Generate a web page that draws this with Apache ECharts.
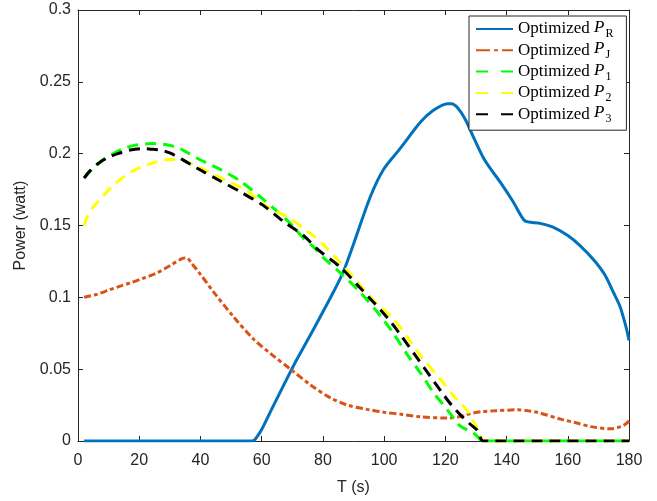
<!DOCTYPE html>
<html><head><meta charset="utf-8">
<script src="https://cdn.jsdelivr.net/npm/echarts@6/dist/echarts.min.js"></script>
<style>html,body{margin:0;padding:0;background:#fff}#c{width:657px;height:501px}</style>
</head><body><div id="c"></div>
<script>
// Optimized P_R
const tR = [2, 20, 40, 56, 57.5, 58.5, 60, 63, 67, 71.3, 77, 83.4, 86.7, 90, 95.5, 99.8, 105.4, 111.9, 116, 120.7, 122, 124, 126.5, 129.3, 133, 138, 142, 145.6, 147, 151, 155, 160, 164, 168.5, 172, 175, 177, 178.3, 179.3, 180];
const pR = [0, 0, 0, 0, 0.0005, 0.003, 0.008, 0.021, 0.038, 0.056, 0.078, 0.1035, 0.118, 0.137, 0.170, 0.189, 0.204, 0.222, 0.230, 0.2348, 0.2348, 0.232, 0.224, 0.211, 0.195, 0.180, 0.167, 0.154, 0.1525, 0.1515, 0.149, 0.143, 0.136, 0.126, 0.116, 0.103, 0.094, 0.085, 0.077, 0.070];
// Optimized P_J
const tJ = [2, 6, 10, 14, 17, 21, 25.8, 30, 34, 35.5, 37, 40, 44.2, 50.8, 57.3, 62.8, 69.4, 76, 82.5, 88, 94.5, 100, 106, 112, 120.7, 125, 128, 132, 136, 143.6, 147, 150, 157.7, 163, 167.5, 174, 177.4, 179, 180];
const pJ = [0.100, 0.102, 0.105, 0.108, 0.110, 0.113, 0.117, 0.122, 0.127, 0.1275, 0.124, 0.116, 0.104, 0.0865, 0.071, 0.061, 0.050, 0.039, 0.030, 0.025, 0.022, 0.020, 0.0185, 0.0168, 0.016, 0.017, 0.019, 0.0205, 0.021, 0.0217, 0.021, 0.020, 0.0152, 0.0125, 0.010, 0.0085, 0.010, 0.012, 0.014];
// Optimized P_1
const t1 = [2, 5, 8.2, 11.5, 14.8, 19, 24.2, 28, 32.3, 35.5, 38.8, 42.5, 46.5, 53, 59.5, 65, 70, 73.7, 77, 80, 86.7, 92, 98.8, 103, 107.6, 112, 116, 119, 122, 124, 126, 129, 131, 132, 133, 150, 180];
const p1 = [0.183, 0.190, 0.196, 0.200, 0.2035, 0.206, 0.207, 0.2065, 0.2045, 0.201, 0.197, 0.193, 0.189, 0.181, 0.170, 0.160, 0.150, 0.141, 0.135, 0.128, 0.115, 0.104, 0.087, 0.075, 0.060, 0.047, 0.034, 0.026, 0.018, 0.012, 0.009, 0.006, 0.002, 0, 0, 0, 0];
// Optimized P_2
const t2 = [2, 3, 5, 7.2, 11.5, 18, 25.8, 30, 34.4, 38, 42, 48.7, 55.3, 61.8, 68.4, 75, 80, 85.7, 92, 97, 103, 108, 112, 118, 122.5, 127.5, 131, 132.5, 133.5, 150, 180];
const p2 = [0.150, 0.156, 0.163, 0.168, 0.178, 0.188, 0.1945, 0.196, 0.195, 0.192, 0.188, 0.181, 0.174, 0.163, 0.156, 0.146, 0.137, 0.124, 0.109, 0.097, 0.085, 0.071, 0.059, 0.044, 0.032, 0.020, 0.006, 0, 0, 0, 0];
// Optimized P_3
const t3 = [2, 3.9, 6.5, 9.5, 13, 17, 21, 24.5, 27, 30, 34, 38.8, 46.5, 53, 60.5, 67, 73.7, 78.5, 85.7, 92, 101, 105, 110.9, 119.5, 122, 125, 128, 130.6, 131.7, 132.3, 133.3, 150, 180];
const p3 = [0.183, 0.188, 0.193, 0.197, 0.200, 0.2025, 0.2035, 0.203, 0.2025, 0.2005, 0.196, 0.190, 0.181, 0.1735, 0.164, 0.153, 0.143, 0.133, 0.121, 0.107, 0.086, 0.075, 0.0575, 0.032, 0.025, 0.018, 0.012, 0.007, 0.001, 0, 0, 0, 0];

const names = ['Optimized {i|P}{s|R}', 'Optimized {i|P}{s|J}', 'Optimized {i|P}{s|1}', 'Optimized {i|P}{s|2}', 'Optimized {i|P}{s|3}'];
const xTicks = [0, 20, 40, 60, 80, 100, 120, 140, 160, 180];
const yTicks = [0, 0.05, 0.1, 0.15, 0.2, 0.25, 0.3];

const zip = (t, p) => t.map((v, i) => [v, p[i]]);
const AX = '#262626';
const font = 'Liberation Sans';
const chart = echarts.init(document.getElementById('c'), null, {renderer: 'canvas'});

function mk(name, t, p, color, type) {
  return {
    name: name, type: 'line', data: zip(t, p), symbol: 'none', smooth: 0.3,
    lineStyle: {color: color, width: 3, type: type, cap: 'butt'},
    itemStyle: {color: color}, animation: false
  };
}

const axisCommon = {
  type: 'value', splitLine: {show: false},
  axisLine: {show: true, onZero: false, lineStyle: {color: AX, width: 1}},
  axisTick: {show: true, inside: true, length: 5, lineStyle: {color: AX}},
};

chart.setOption({
  animation: false,
  grid: {left: 78, top: 10, right: 28, bottom: 58, containLabel: false},
  xAxis: [
    Object.assign({}, axisCommon, {
      min: xTicks[0], max: xTicks[xTicks.length - 1], interval: 20, position: 'bottom',
      name: 'T (s)', nameLocation: 'middle', nameGap: 39,
      nameTextStyle: {fontFamily: font, fontSize: 16, color: AX},
      axisLabel: {fontFamily: font, fontSize: 16, color: AX, margin: 12}
    }),
    Object.assign({}, axisCommon, {
      min: xTicks[0], max: xTicks[xTicks.length - 1], interval: 20, position: 'top',
      axisLabel: {show: false}
    })
  ],
  yAxis: [
    Object.assign({}, axisCommon, {
      min: yTicks[0], max: yTicks[yTicks.length - 1], interval: 0.05, position: 'left',
      name: 'Power (watt)', nameLocation: 'middle', nameGap: 44,
      nameTextStyle: {fontFamily: font, fontSize: 16, color: AX},
      axisLabel: {fontFamily: font, fontSize: 16, color: AX, margin: 7,
        formatter: v => String(parseFloat(v.toFixed(2)))}
    }),
    Object.assign({}, axisCommon, {
      min: yTicks[0], max: yTicks[yTicks.length - 1], interval: 0.05, position: 'right',
      axisLabel: {show: false}
    })
  ],
  legend: {
    orient: 'vertical', left: 469, top: 16,
    padding: [3, 13, 5, 6], itemGap: 0.3, itemWidth: 37, itemHeight: 14,
    backgroundColor: '#fff', borderColor: AX, borderWidth: 1, borderRadius: 0,
    itemStyle: {opacity: 0},
    data: [
      {name: names[0]},
      {name: names[1], lineStyle: {type: [14, 4, 4, 4]}},
      {name: names[2], lineStyle: {type: [12, 13]}},
      {name: names[3], lineStyle: {type: [12, 13]}},
      {name: names[4], lineStyle: {type: [12, 13]}}
    ],
    textStyle: {
      fontFamily: 'Liberation Serif', fontSize: 17, color: '#000',
      rich: {
        i: {fontFamily: 'Liberation Serif', fontSize: 17, fontStyle: 'italic', lineHeight: 20, verticalAlign: 'top'},
        s: {fontFamily: 'Liberation Serif', fontSize: 12, lineHeight: 11, padding: [9, 0, 0, 1], verticalAlign: 'top'}
      }
    }
  },
  series: [
    mk(names[0], tR, pR, '#0072BD', 'solid'),
    mk(names[1], tJ, pJ, '#D95319', [7, 3, 4, 3]),
    mk(names[2], t1, p1, '#00FF00', [11, 7]),
    mk(names[3], t2, p2, '#FFFF00', [11, 7]),
    mk(names[4], t3, p3, '#000000', [11, 7])
  ]
});
</script>
</body></html>
